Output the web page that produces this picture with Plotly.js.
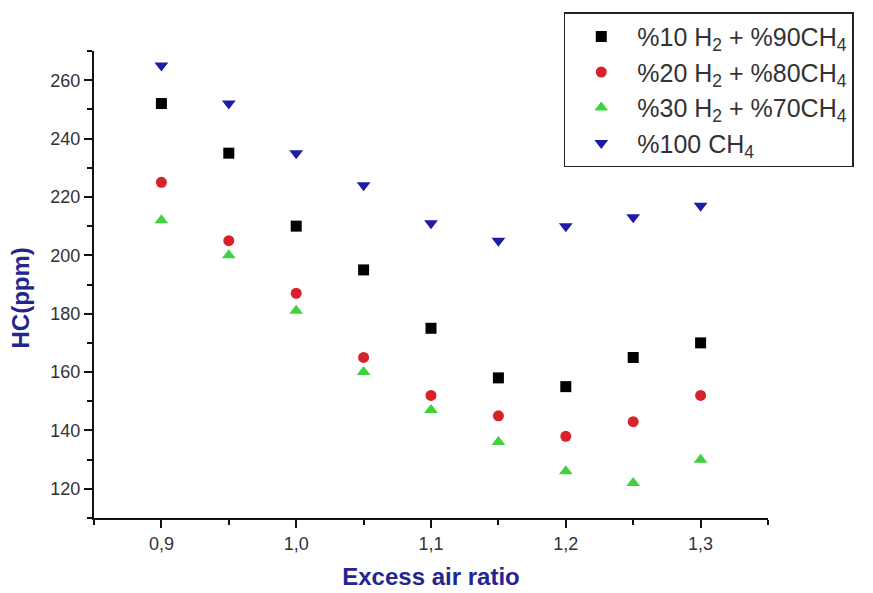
<!DOCTYPE html>
<html>
<head>
<meta charset="utf-8">
<script src="https://cdn.plot.ly/plotly-3.0.1.min.js"></script>
<style>html,body{margin:0;padding:0;background:#fff;}#chart{width:873px;height:593px;}</style>
</head>
<body>
<div id="chart"></div>
<script>
const excessAir = [0.9, 0.95, 1.0, 1.05, 1.1, 1.15, 1.2, 1.25, 1.3];
const h2_10 = [252, 235, 210, 195, 175, 158, 155, 165, 170];
const h2_20 = [225, 205, 187, 165, 152, 145, 138, 143, 152];
const h2_30 = [212, 200, 181, 160, 147, 136, 126, 122, 130];
const ch4_100 = [265, 252, 235, 224, 211, 205, 210, 213, 217];
const seriesNames = [
  '%10 H<sub>2</sub> + %90CH<sub>4</sub>',
  '%20 H<sub>2</sub> + %80CH<sub>4</sub>',
  '%30 H<sub>2</sub> + %70CH<sub>4</sub>',
  '%100 CH<sub>4</sub>'
];
const xTicks = [0.9, 1.0, 1.1, 1.2, 1.3];
const yTicks = [120, 140, 160, 180, 200, 220, 240, 260];

const mk = (y, name, symbol, color, size) => ({
  x: excessAir, y: y, name: name, type: 'scatter', mode: 'markers',
  marker: {symbol: symbol, color: color, size: size, line: {width: 0}}
});

const data = [
  mk(h2_10, seriesNames[0], 'square', '#000000', 11),
  mk(h2_20, seriesNames[1], 'circle', '#d8222a', 11),
  mk(h2_30, seriesNames[2], 'triangle-up', '#3fd23f', 12),
  mk(ch4_100, seriesNames[3], 'triangle-down', '#1c1ca6', 12)
];

const tickFont = {family: 'Liberation Sans, Arial, sans-serif', size: 18, color: '#333333'};
const titleFont = {family: 'Liberation Sans, Arial, sans-serif', size: 24, color: '#25258f', weight: 'bold'};

const layout = {
  width: 873, height: 593,
  margin: {l: 94, r: 105, t: 47, b: 75, pad: 0},
  paper_bgcolor: '#ffffff', plot_bgcolor: '#ffffff',
  separators: ', ',
  showlegend: true,
  legend: {
    x: 0.697, y: 1.083, xanchor: 'left', yanchor: 'top',
    bgcolor: '#ffffff', bordercolor: '#222222', borderwidth: 1.5,
    font: {family: 'Liberation Sans, Arial, sans-serif', size: 25, color: '#333333'},
    itemwidth: 62
  },
  xaxis: {
    range: [0.85, 1.35], tickvals: xTicks, ticks: 'outside', ticklen: 8, tickwidth: 2, tickcolor: '#111',
    showline: true, linecolor: '#111', linewidth: 2, showgrid: false, zeroline: false,
    tickfont: tickFont, tickformat: '.1f',
    minor: {dtick: 0.05, tick0: 0.85, ticks: 'outside', ticklen: 5, tickwidth: 2, tickcolor: '#111', showgrid: false},
    title: {text: 'Excess air ratio', font: titleFont, standoff: 16}
  },
  yaxis: {
    range: [110, 270], tickvals: yTicks, ticks: 'outside', ticklen: 8, tickwidth: 2, tickcolor: '#111',
    showline: true, linecolor: '#111', linewidth: 2, showgrid: false, zeroline: false,
    tickfont: tickFont,
    minor: {dtick: 10, tick0: 110, ticks: 'outside', ticklen: 5, tickwidth: 2, tickcolor: '#111', showgrid: false},
    title: {text: 'HC(ppm)&nbsp;&nbsp;&nbsp;&nbsp;', font: titleFont, standoff: 14}
  }
};

Plotly.newPlot('chart', data, layout, {displayModeBar: false, staticPlot: true});
</script>
</body>
</html>
